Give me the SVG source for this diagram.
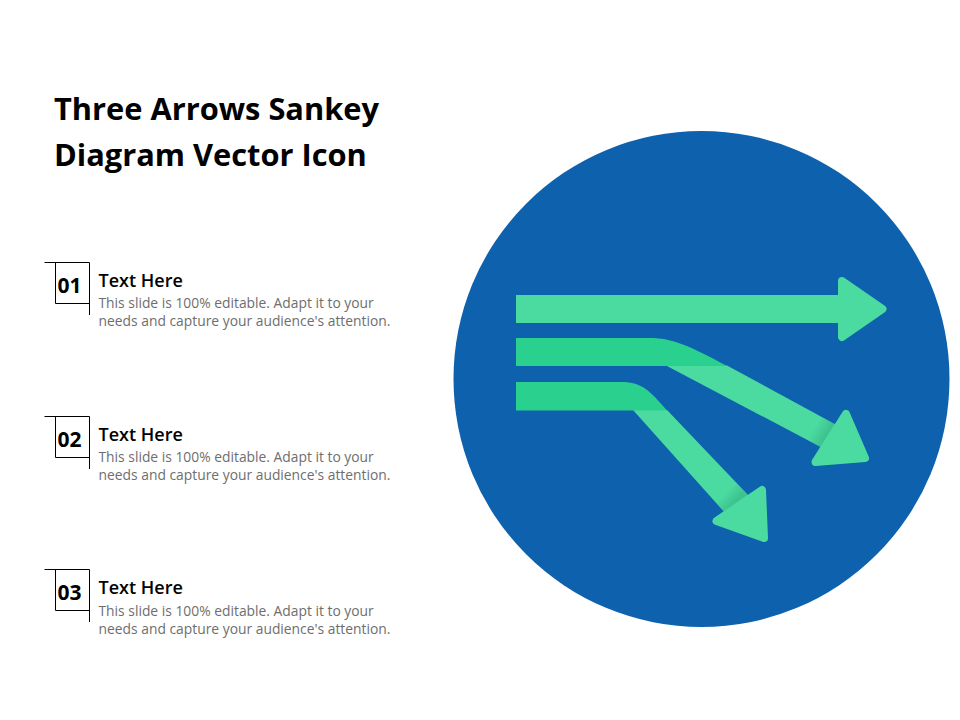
<svg xmlns="http://www.w3.org/2000/svg" width="960" height="720" viewBox="0 0 960 720">
<style>
text{font-family:"Open Sans","Noto Sans",sans-serif}
.t{font-size:30.800px;font-weight:700;fill:#000}
.n{font-size:21px;font-weight:700;fill:#000;text-anchor:middle}
.h{font-size:18px;font-weight:600;fill:#000}
.b{font-size:13.850px;fill:#6e6e6e}
.l{fill:none;stroke:#000;stroke-width:1}
.a{fill:#4bdba0}
.d{fill:#2ad08e}
.head{fill:#4bdba0;stroke:#4bdba0;stroke-width:8;stroke-linejoin:round}
</style>
<defs>
<linearGradient id="s2" gradientUnits="userSpaceOnUse" x1="814" y1="427.600" x2="826" y2="434.500"><stop offset="0" stop-color="#2a9f78" stop-opacity="0"/><stop offset="1" stop-color="#2a9f78" stop-opacity=".4"/></linearGradient>
<linearGradient id="s3" gradientUnits="userSpaceOnUse" x1="725" y1="493" x2="734.500" y2="502"><stop offset="0" stop-color="#2a9f78" stop-opacity="0"/><stop offset="1" stop-color="#2a9f78" stop-opacity=".4"/></linearGradient>
</defs>
<rect width="960" height="720" fill="#fff"/>
<g id="title"><text class="t" x="54" y="120">Three Arrows Sankey</text><text class="t" x="54" y="166">Diagram Vector Icon</text></g>
<g id="item1"><path class="l" d="M44.500 262.500H89.500V315M89.500 303.500H55.500V262.500"/><text class="n" x="69.500" y="293">01</text><text class="h" x="98.500" y="286.500">Text Here</text><text class="b" x="98.500" y="308">This slide is 100% editable. Adapt it to your</text><text class="b" x="98.500" y="326">needs and capture your audience's attention.</text></g>
<g id="item2"><path class="l" d="M44.500 416.500H89.500V469M89.500 457.500H55.500V416.500"/><text class="n" x="69.500" y="447">02</text><text class="h" x="98.500" y="440.500">Text Here</text><text class="b" x="98.500" y="462">This slide is 100% editable. Adapt it to your</text><text class="b" x="98.500" y="480">needs and capture your audience's attention.</text></g>
<g id="item3"><path class="l" d="M44.500 569.500H89.500V622M89.500 610.500H55.500V569.500"/><text class="n" x="69.500" y="600">03</text><text class="h" x="98.500" y="593.500">Text Here</text><text class="b" x="98.500" y="616">This slide is 100% editable. Adapt it to your</text><text class="b" x="98.500" y="634">needs and capture your audience's attention.</text></g>
<g id="circle"><circle cx="701.500" cy="379" r="248" fill="#0d61ad"/></g>
<g id="connectors">
<rect class="a" x="516" y="295" width="325" height="28"/>
<path class="a" d="M666 365.500 727 365.500 836.500 425 822.500 448Z"/>
<path class="d" d="M516 338H650C672 338 690 346 727 366H667L516 366Z"/>
<path class="a" d="M633 410H667L749 496 726 514Z"/>
<path class="d" d="M516 382H622C642 382 650 391 667 410.500H633.500L516 410.500Z"/>
<path fill="url(#s2)" d="M820 416 836.500 425 822.500 448 806 439Z"/>
<path fill="url(#s3)" d="M737 484 749 496 726 514 713 500Z"/>
</g>
<g id="heads">
<path class="head" d="M842 281 882.500 309 842 337Z"/>
<path class="head" d="M846 414 865 458 815.500 462Z"/>
<path class="head" d="M762 490 764 538 716.500 521Z"/>
</g>
</svg>
